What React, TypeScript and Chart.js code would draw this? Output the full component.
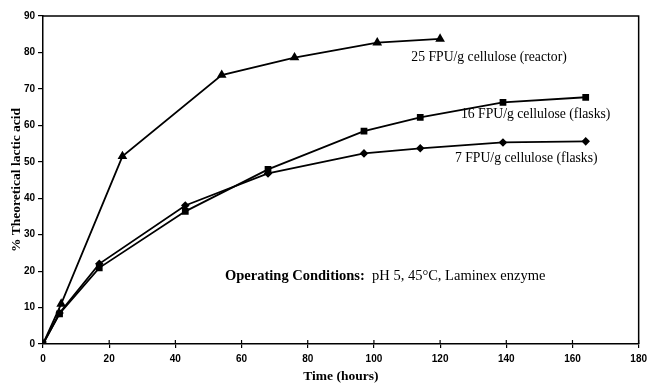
import React, { useEffect, useRef } from "react";
import { Chart, registerables } from "chart.js";

Chart.register(...registerables);

const reactorTimes = [0, 5.5, 24, 54, 76, 101, 120];
const reactorValues = [0, 11, 51.5, 73.8, 78.6, 82.7, 83.7];
const flaskTimes = [0, 5, 17, 43, 68, 97, 114, 139, 164];
const flask16Values = [0, 8.3, 20.9, 36.4, 47.9, 58.4, 62.2, 66.3, 67.7];
const flask7Values = [0, 8.5, 22, 38, 46.8, 52.3, 53.7, 55.3, 55.6];

const seriesLabels = [
  "25 FPU/g cellulose (reactor)",
  "16 FPU/g cellulose (flasks)",
  "7 FPU/g cellulose (flasks)",
];
const xTitle = "Time (hours)";
const yTitle = "% Theoretical lactic acid";
const conditionsBold = "Operating Conditions:";
const conditionsText = "pH 5, 45\u00B0C, Laminex enzyme";

const toPoints = (xs: number[], ys: number[]) => xs.map((x, i) => ({ x, y: ys[i] }));

const frameAndTextPlugin = {
  id: "frameAndText",
  afterDraw(chart: any) {
    const { ctx, chartArea, scales } = chart;
    const xs = scales.x;
    const ys = scales.y;
    ctx.save();
    ctx.strokeStyle = "#000";
    ctx.lineWidth = 1.5;
    ctx.beginPath();
    ctx.moveTo(chartArea.left, chartArea.top);
    ctx.lineTo(chartArea.right, chartArea.top);
    ctx.lineTo(chartArea.right, chartArea.bottom);
    ctx.stroke();
    // inner half of crossing x ticks
    ctx.lineWidth = 1.2;
    xs.ticks.forEach((t: any) => {
      const px = xs.getPixelForValue(t.value);
      ctx.beginPath();
      ctx.moveTo(px, chartArea.bottom);
      ctx.lineTo(px, chartArea.bottom - 4);
      ctx.stroke();
    });
    ctx.fillStyle = "#000";
    ctx.textBaseline = "middle";
    ctx.textAlign = "left";
    ctx.font = "13.7px 'Liberation Serif'";
    ctx.fillText(seriesLabels[0], xs.getPixelForValue(111.3), ys.getPixelForValue(78.6));
    ctx.fillText(seriesLabels[1], xs.getPixelForValue(126.3), ys.getPixelForValue(63.0));
    ctx.fillText(seriesLabels[2], xs.getPixelForValue(124.5), ys.getPixelForValue(50.9));
    ctx.font = "bold 14.5px 'Liberation Serif'";
    const x0 = xs.getPixelForValue(55);
    const yc = ys.getPixelForValue(18.6);
    ctx.fillText(conditionsBold, x0, yc);
    const w = ctx.measureText(conditionsBold + "  ").width;
    ctx.font = "14.5px 'Liberation Serif'";
    ctx.fillText(conditionsText, x0 + w, yc);
    ctx.restore();
  },
};

export default function App() {
  const canvasRef = useRef<HTMLCanvasElement | null>(null);

  useEffect(() => {
    if (!canvasRef.current) return;
    const common = {
      showLine: true,
      borderColor: "#000",
      backgroundColor: "#000",
      pointBackgroundColor: "#000",
      pointBorderColor: "#000",
      borderWidth: 1.8,
      tension: 0,
    };
    const chart = new Chart(canvasRef.current, {
      type: "scatter",
      data: {
        datasets: [
          {
            ...common,
            label: seriesLabels[0],
            data: toPoints(reactorTimes, reactorValues),
            pointStyle: "triangle",
            pointRadius: 3.8,
          },
          {
            ...common,
            label: seriesLabels[1],
            data: toPoints(flaskTimes, flask16Values),
            pointStyle: "rect",
            pointRadius: 3.5,
          },
          {
            ...common,
            label: seriesLabels[2],
            data: toPoints(flaskTimes, flask7Values),
            pointStyle: "rectRot",
            pointRadius: 3,
          },
        ],
      },
      options: {
        responsive: false,
        animation: false,
        layout: { padding: { top: 16, right: 12, left: 0, bottom: 0 } },
        plugins: {
          legend: { display: false },
          tooltip: { enabled: false },
        },
        scales: {
          x: {
            type: "linear",
            min: 0,
            max: 180,
            ticks: {
              stepSize: 20,
              color: "#000",
              padding: 5,
              maxRotation: 0,
              font: { family: "'Liberation Sans', Arial", weight: "bold", size: 10 },
            },
            grid: {
              drawOnChartArea: false,
              drawTicks: true,
              tickLength: 4,
              color: "#000",
              lineWidth: 1.2,
            },
            border: { display: true, color: "#000", width: 1.5 },
            title: {
              display: true,
              text: xTitle,
              color: "#000",
              padding: { top: 0, bottom: 2 },
              font: { family: "'Liberation Serif'", weight: "bold", size: 13.5 },
            },
            afterFit: (s: any) => {
              s.height = 43;
            },
          },
          y: {
            type: "linear",
            min: 0,
            max: 90,
            ticks: {
              stepSize: 10,
              color: "#000",
              padding: 3,
              font: { family: "'Liberation Sans', Arial", weight: "bold", size: 10 },
            },
            grid: {
              drawOnChartArea: false,
              drawTicks: true,
              tickLength: 5,
              color: "#000",
              lineWidth: 1.2,
            },
            border: { display: true, color: "#000", width: 1.5 },
            title: {
              display: true,
              text: yTitle,
              color: "#000",
              padding: { top: 8, bottom: 0 },
              font: { family: "'Liberation Serif'", weight: "bold", size: 13.5 },
            },
            afterFit: (s: any) => {
              s.width = 43;
            },
          },
        },
      },
      plugins: [frameAndTextPlugin],
    } as any);
    return () => chart.destroy();
  }, []);

  return (
    <div style={{ position: "absolute", left: 0, top: 0, width: 652, height: 387, background: "#fff" }}>
      <canvas ref={canvasRef} width={652} height={387} style={{ width: 652, height: 387 }} />
    </div>
  );
}
